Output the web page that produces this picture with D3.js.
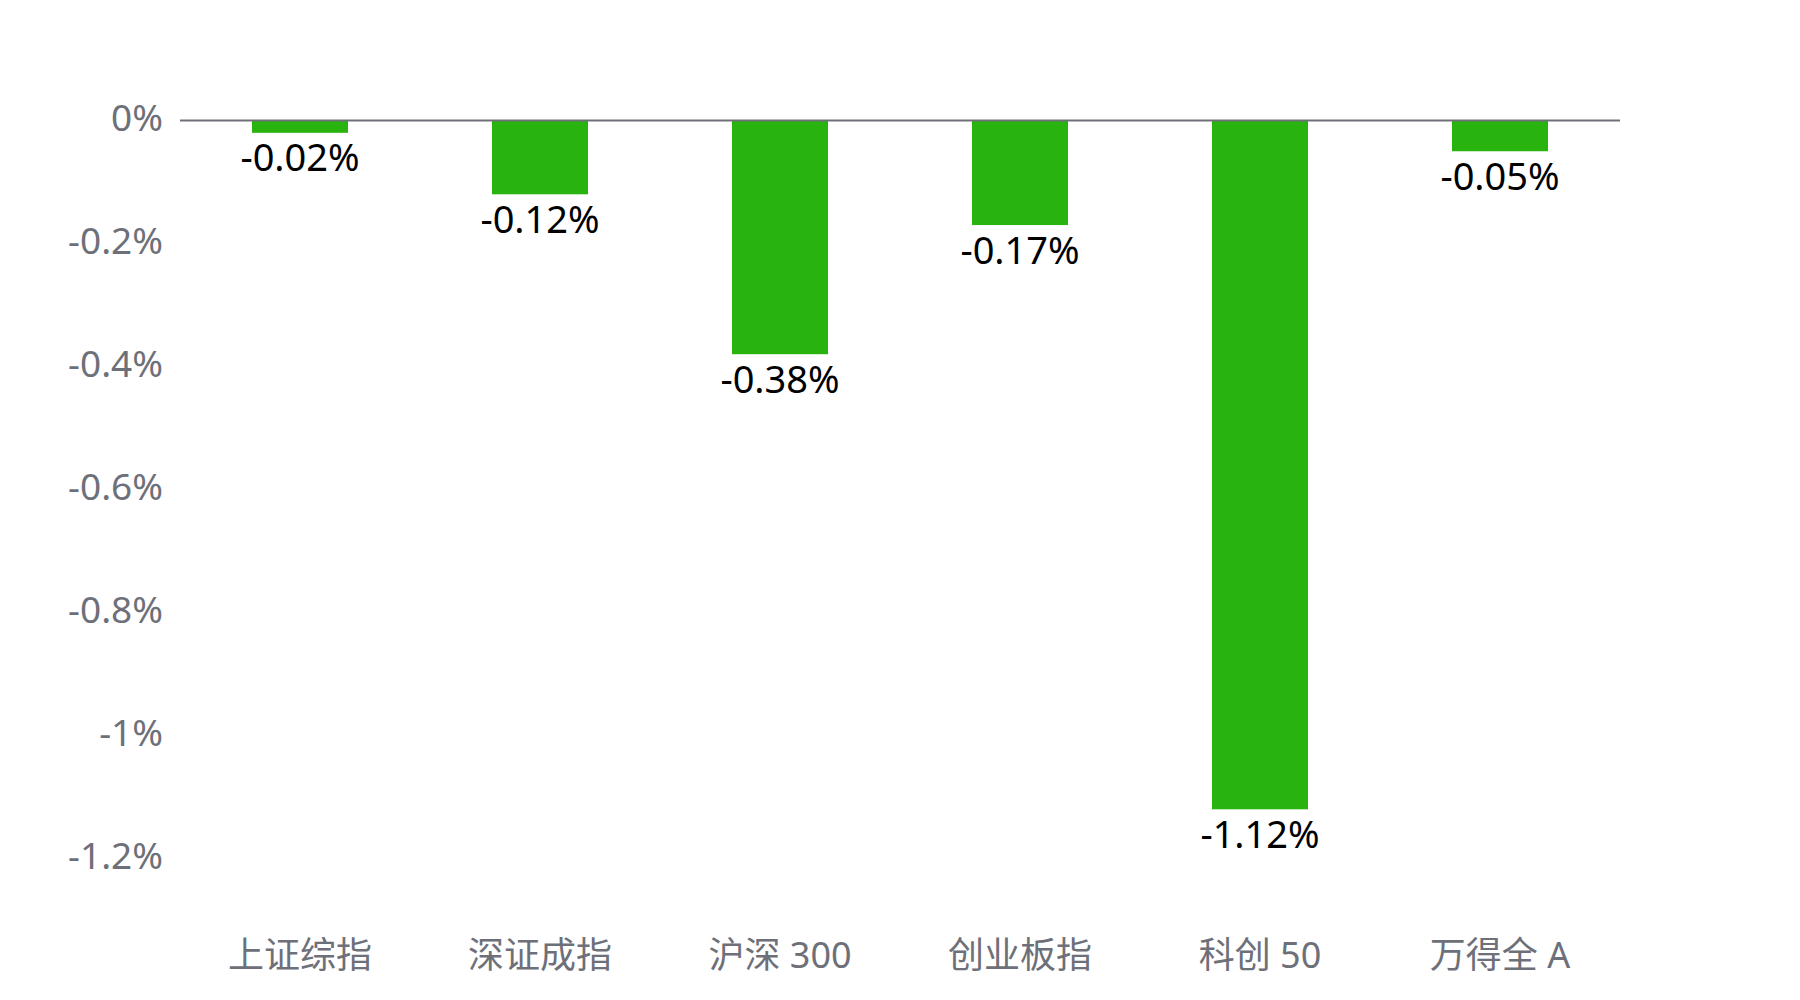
<!DOCTYPE html>
<html>
<head>
<meta charset="utf-8">
<script src="https://cdn.jsdelivr.net/npm/d3@7/dist/d3.min.js"></script>
<style>
  html, body { margin: 0; padding: 0; background: #ffffff; }
  svg { display: block; }
  text { font-family: "Noto Sans", "Noto Sans CJK SC", sans-serif; }
</style>
</head>
<body>
<svg id="chart" width="1800" height="1000"></svg>
<script>
// Daily change of major A-share indices (%)
const categories = ["上证综指", "深证成指", "沪深 300", "创业板指", "科创 50", "万得全 A"];
const changes = [-0.02, -0.12, -0.38, -0.17, -1.12, -0.05];
const yTicks = [0, -0.2, -0.4, -0.6, -0.8, -1, -1.2];
const yTickLabels = ["0%", "-0.2%", "-0.4%", "-0.6%", "-0.8%", "-1%", "-1.2%"];

const svg = d3.select("#chart");
const plotLeft = 180, plotRight = 1620, plotTop = 120.5, plotBottom = 858.5;

const x = d3.scaleBand()
  .domain(categories)
  .range([plotLeft, plotRight])
  .paddingInner(0.6)
  .paddingOuter(0.3);

const y = d3.scaleLinear()
  .domain([-1.2, 0])
  .range([plotBottom, plotTop]);

// y-axis tick labels (no axis line, no gridlines)
const yAxis = d3.axisLeft(y)
  .tickValues(yTicks)
  .tickFormat((d, i) => yTickLabels[i])
  .tickSize(0)
  .tickPadding(17);

const yG = svg.append("g")
  .attr("transform", `translate(${plotLeft},0)`)
  .call(yAxis);
yG.select(".domain").remove();
yG.selectAll("text")
  .attr("fill", "#6e7079")
  .attr("font-size", 37)
  .attr("dy", "0.3em")
  .attr("y", -1)
  .style("font-family", "'Noto Sans', 'Noto Sans CJK SC', sans-serif");

// bars
svg.append("g").selectAll("rect")
  .data(changes)
  .join("rect")
  .attr("x", (d, i) => x(categories[i]))
  .attr("width", x.bandwidth())
  .attr("y", d => y(Math.max(0, d)))
  .attr("height", d => Math.abs(y(d) - y(0)))
  .attr("fill", "#28b30e");

// zero baseline
svg.append("line")
  .attr("x1", plotLeft).attr("x2", plotRight)
  .attr("y1", y(0)).attr("y2", y(0))
  .attr("stroke", "#6e7079")
  .attr("stroke-width", 2);

// value labels below each bar
svg.append("g").selectAll("text")
  .data(changes)
  .join("text")
  .attr("x", (d, i) => x(categories[i]) + x.bandwidth() / 2)
  .attr("y", d => y(d) + 25)
  .attr("dy", "0.36em")
  .attr("text-anchor", "middle")
  .attr("font-size", 38)
  .attr("fill", "#000000")
  .text(d => d.toFixed(2) + "%");

// category axis labels
const xAxis = d3.axisBottom(x).tickSize(0).tickPadding(0);
const xG = svg.append("g")
  .attr("transform", `translate(0,955)`)
  .call(xAxis);
xG.select(".domain").remove();
xG.selectAll("text")
  .attr("y", 0)
  .attr("dy", "0.36em")
  .attr("fill", "#6e7079")
  .attr("font-size", 36)
  .style("font-family", "'Noto Sans', 'Noto Sans CJK SC', sans-serif");
</script>
</body>
</html>
